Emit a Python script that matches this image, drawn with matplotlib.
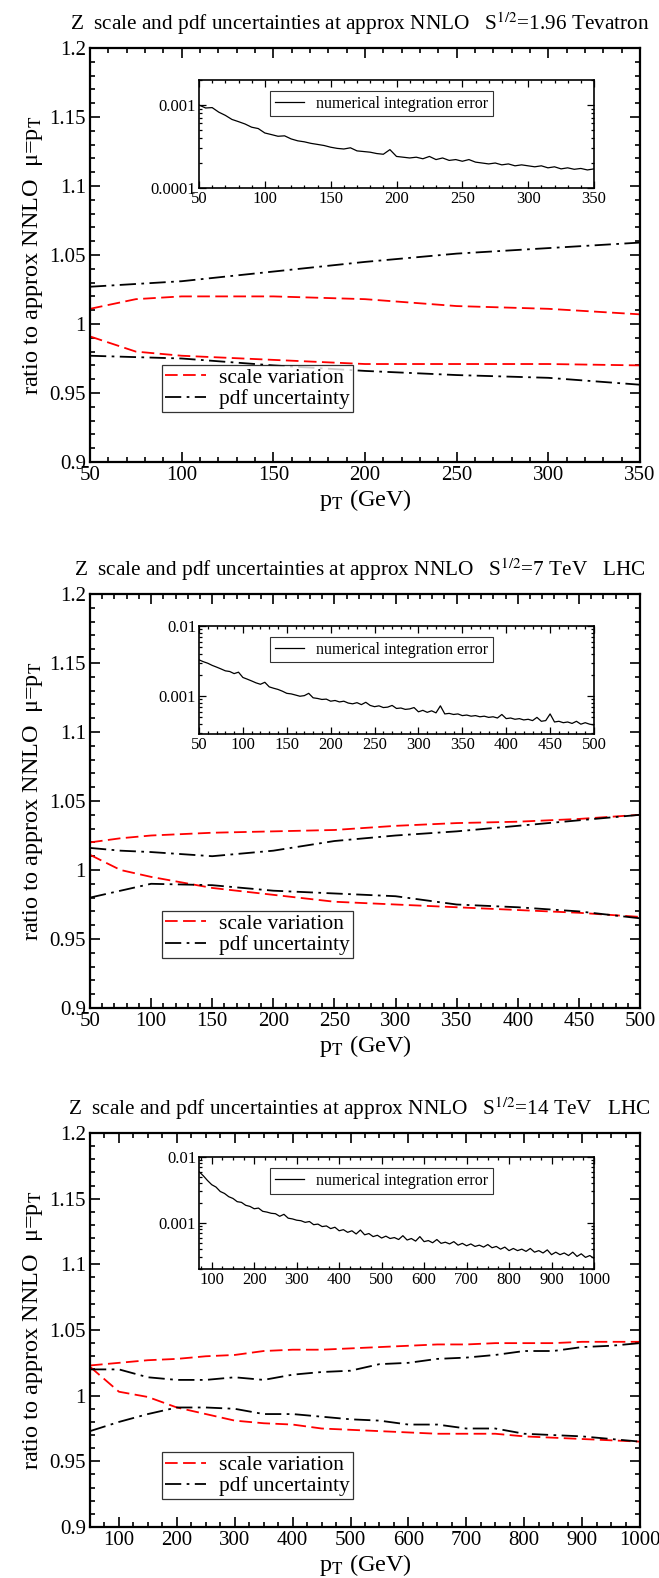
import numpy as np
import matplotlib
matplotlib.use("Agg")
import matplotlib.pyplot as plt
from matplotlib.ticker import MultipleLocator, FormatStrFormatter, LogLocator, NullFormatter

plt.rcParams['font.family'] = ['Liberation Serif', 'DejaVu Serif']
plt.rcParams['mathtext.fontset'] = 'stix'

W, H = 659, 1578

# ---- data ----
titles = [r"Z  scale and pdf uncertainties at approx NNLO   S$^{1/2}$=1.96 Tevatron",
          r"Z  scale and pdf uncertainties at approx NNLO   S$^{1/2}$=7 TeV   LHC",
          r"Z  scale and pdf uncertainties at approx NNLO   S$^{1/2}$=14 TeV   LHC"]

x1 = [50, 75, 100, 150, 200, 250, 300, 350]
scale_up1 = [1.011, 1.018, 1.020, 1.020, 1.018, 1.013, 1.011, 1.007]
scale_lo1 = [0.991, 0.980, 0.977, 0.974, 0.971, 0.971, 0.971, 0.970]
pdf_up1 = [1.027, 1.029, 1.031, 1.038, 1.045, 1.051, 1.055, 1.059]
pdf_lo1 = [0.977, 0.976, 0.975, 0.970, 0.966, 0.963, 0.961, 0.956]

x2 = [50, 75, 100, 150, 200, 250, 300, 350, 400, 450, 500]
scale_up2 = [1.020, 1.023, 1.025, 1.027, 1.028, 1.029, 1.032, 1.034, 1.035, 1.037, 1.040]
scale_lo2 = [1.011, 1.000, 0.995, 0.987, 0.982, 0.977, 0.975, 0.973, 0.971, 0.969, 0.966]
pdf_up2 = [1.016, 1.014, 1.013, 1.010, 1.014, 1.021, 1.025, 1.028, 1.032, 1.036, 1.040]
pdf_lo2 = [0.980, 0.985, 0.990, 0.989, 0.985, 0.983, 0.981, 0.975, 0.973, 0.970, 0.965]

x3 = [50, 100, 150, 200, 250, 300, 350, 400, 450, 500,
      550, 600, 650, 700, 750, 800, 850, 900, 950, 1000]
scale_up3 = [1.023, 1.025, 1.027, 1.028, 1.030, 1.031, 1.034, 1.035, 1.035, 1.036,
             1.037, 1.038, 1.039, 1.039, 1.040, 1.040, 1.040, 1.041, 1.041, 1.041]
scale_lo3 = [1.022, 1.003, 0.999, 0.991, 0.986, 0.981, 0.979, 0.978, 0.975, 0.974,
             0.973, 0.972, 0.971, 0.971, 0.971, 0.969, 0.968, 0.967, 0.966, 0.965]
pdf_up3 = [1.020, 1.020, 1.014, 1.012, 1.012, 1.014, 1.012, 1.016, 1.018, 1.019,
           1.024, 1.025, 1.028, 1.029, 1.031, 1.034, 1.034, 1.037, 1.038, 1.040]
pdf_lo3 = [0.973, 0.980, 0.986, 0.991, 0.991, 0.990, 0.986, 0.986, 0.984, 0.982,
           0.981, 0.978, 0.978, 0.975, 0.975, 0.971, 0.970, 0.969, 0.967, 0.965]

# numerical integration error (units of 1e-4)
err_x1 = list(range(50, 351, 5))
err1 = [10.0, 9.2, 9.3, 8.2, 7.5, 6.7, 6.3, 5.9, 5.4, 5.2,
        4.6, 4.4, 4.2, 4.25, 3.9, 3.7, 3.6, 3.45, 3.35, 3.25,
        3.1, 3.0, 2.95, 3.05, 2.8, 2.75, 2.7, 2.6, 2.55, 2.9,
        2.4, 2.35, 2.3, 2.35, 2.25, 2.4, 2.2, 2.3, 2.15, 2.2,
        2.1, 2.2, 2.05, 2.0, 1.95, 2.0, 1.9, 1.95, 1.85, 1.9,
        1.85, 1.8, 1.85, 1.75, 1.8, 1.7, 1.75, 1.68, 1.72, 1.65, 1.7]

err_x2 = list(range(50, 501, 5))
err2 = [33, 31, 29.5, 27.5, 26, 24.5, 23, 22.5, 21, 22,
        18.5, 17.5, 16.5, 15.5, 14.8, 15.8, 13.6, 13.0, 12.5, 11.8,
        11.0, 10.8, 10.4, 10.0, 10.2, 11.0, 9.5, 9.3, 9.0, 9.1,
        8.5, 8.7, 8.3, 8.5, 8.0, 7.8, 8.1, 7.6, 8.2, 7.4,
        7.1, 7.3, 6.9, 7.0, 7.4, 6.7, 6.8, 6.5, 6.6, 6.9,
        6.0, 6.3, 5.9, 6.2, 5.8, 7.3, 5.6, 5.7, 5.5, 5.6,
        5.3, 5.4, 5.2, 5.3, 5.1, 5.2, 5.0, 5.1, 4.9, 5.5,
        4.8, 4.9, 4.7, 4.8, 4.6, 4.7, 4.5, 5.0, 4.4, 4.5,
        5.6, 4.3, 4.4, 4.2, 4.3, 4.1, 4.4, 4.0, 4.2, 4.0,
        3.9]

err_x3 = list(range(70, 1001, 10))
err3 = [60, 52, 44, 38, 35, 30, 28, 25, 23.5, 21,
        20.5, 18.5, 17.8, 16.4, 16.8, 15, 14.6, 14, 13.8, 12.6,
        13.5, 11.8, 11.5, 11.0, 10.8, 10.2, 10.5, 9.4, 9.6, 8.8,
        9.0, 8.2, 8.6, 7.6, 7.9, 7.2, 7.6, 6.8, 7.8, 6.6,
        6.9, 6.2, 6.5, 5.9, 6.3, 5.8, 6.0, 5.6, 6.4, 5.5,
        5.8, 5.3, 6.2, 5.2, 5.4, 5.0, 5.6, 4.9, 5.1, 4.8,
        5.2, 4.6, 4.9, 4.5, 4.8, 4.4, 4.6, 4.3, 4.7, 4.2,
        4.4, 4.0, 4.3, 3.8, 4.1, 3.8, 4.0, 3.7, 4.1, 3.6,
        3.8, 3.5, 3.9, 3.3, 3.6, 3.3, 3.5, 3.2, 3.6, 3.1,
        3.4, 3.0, 3.2, 2.9]

panels = [
    dict(x=x1, su=scale_up1, sl=scale_lo1, pu=pdf_up1, pl=pdf_lo1, xlim=(50, 350), xmaj=50, xmin=10,
         ex=err_x1, ey=err1, exlim=(50, 350), eylim=(1e-4, 2e-3), exmaj=50, exmin=10,
         top=48, h=414, legy=0.12),
    dict(x=x2, su=scale_up2, sl=scale_lo2, pu=pdf_up2, pl=pdf_lo2, xlim=(50, 500), xmaj=50, xmin=10,
         ex=err_x2, ey=err2, exlim=(50, 500), eylim=(2.9e-4, 1e-2), exmaj=50, exmin=10,
         top=594, h=414, legy=0.12),
    dict(x=x3, su=scale_up3, sl=scale_lo3, pu=pdf_up3, pl=pdf_lo3, xlim=(50, 1000), xmaj=100, xmin=25,
         ex=err_x3, ey=err3, exlim=(70, 1000), eylim=(2e-4, 1e-2), exmaj=100, exmin=25,
         top=1133, h=394, legy=0.07),
]

RED_DASH = (0, (7, 3))
DASH_DOT = (0, (9, 3, 1.5, 3))


def rect(l, t, r, b):
    return [l / W, 1 - b / H, (r - l) / W, (b - t) / H]


fig = plt.figure(figsize=(W / 100, H / 100), dpi=100)

for i, p in enumerate(panels):
    top = p['top']
    ax = fig.add_axes(rect(90, top, 640, top + p['h']))
    ax.plot(p['x'], p['su'], color='red', ls=RED_DASH, lw=1.3, label='scale variation')
    ax.plot(p['x'], p['sl'], color='red', ls=RED_DASH, lw=1.3)
    ax.plot(p['x'], p['pu'], color='black', ls=DASH_DOT, lw=1.3, label='pdf uncertainty')
    ax.plot(p['x'], p['pl'], color='black', ls=DASH_DOT, lw=1.3)
    ax.set_xlim(*p['xlim'])
    ax.set_ylim(0.9, 1.2)
    ax.xaxis.set_major_locator(MultipleLocator(p['xmaj']))
    ax.xaxis.set_minor_locator(MultipleLocator(p['xmin']))
    ax.yaxis.set_major_locator(MultipleLocator(0.05))
    ax.yaxis.set_minor_locator(MultipleLocator(0.01))
    ax.yaxis.set_major_formatter(FormatStrFormatter('%g'))
    ax.xaxis.set_major_formatter(FormatStrFormatter('%g'))
    ax.tick_params(which='both', direction='in', top=True, right=True, labelsize=15, width=1.2)
    ax.tick_params(which='major', length=7, pad=3)
    ax.tick_params(which='minor', length=3.5)
    for s in ax.spines.values():
        s.set_linewidth(1.6)
    ax.set_ylabel('ratio to approx NNLO  μ=p$_{\\rm T}$', fontsize=17.5, labelpad=3)
    ax.set_xlabel(r'p$_{\rm T}$ (GeV)', fontsize=17.5, labelpad=1)
    ax.set_title(titles[i], fontsize=15.3, pad=13, x=0.49)
    leg = ax.legend(loc='lower left', bbox_to_anchor=(0.13, p['legy']), fontsize=15.5, frameon=True,
                    fancybox=False, edgecolor='black', handlelength=1.9, borderpad=0.15,
                    labelspacing=0.05, handletextpad=0.6, borderaxespad=0)
    leg.get_frame().set_linewidth(0.9)

    # inset with the numerical integration error
    ins = fig.add_axes(rect(199, top + 32 - (i == 2) * 8, 594, top + 140 - (i == 2) * 4))
    ins.plot(p['ex'], np.array(p['ey']) * 1e-4, color='black', lw=0.9,
             label='numerical integration error')
    ins.set_yscale('log')
    ins.set_xlim(*p['exlim'])
    ins.set_ylim(*p['eylim'])
    ins.xaxis.set_major_locator(MultipleLocator(p['exmaj']))
    ins.xaxis.set_minor_locator(MultipleLocator(p['exmin']))
    ins.xaxis.set_major_formatter(FormatStrFormatter('%g'))
    ins.yaxis.set_major_locator(LogLocator(base=10))
    ins.yaxis.set_minor_locator(LogLocator(base=10, subs=np.arange(2, 10)))
    ins.yaxis.set_major_formatter(FormatStrFormatter('%g'))
    ins.yaxis.set_minor_formatter(NullFormatter())
    ins.tick_params(which='both', direction='in', top=True, right=True, labelsize=12, width=0.9, pad=2)
    ins.tick_params(which='major', length=5)
    ins.tick_params(which='minor', length=2.5)
    for s in ins.spines.values():
        s.set_linewidth(1.2)
    il = ins.legend(loc='upper right', bbox_to_anchor=(0.745, 0.9), fontsize=11.5, frameon=True,
                    fancybox=False, edgecolor='black', handlelength=1.8, borderpad=0.3,
                    handletextpad=0.8, borderaxespad=0)
    il.get_frame().set_linewidth(0.8)

fig.savefig('out.png', dpi=100)
